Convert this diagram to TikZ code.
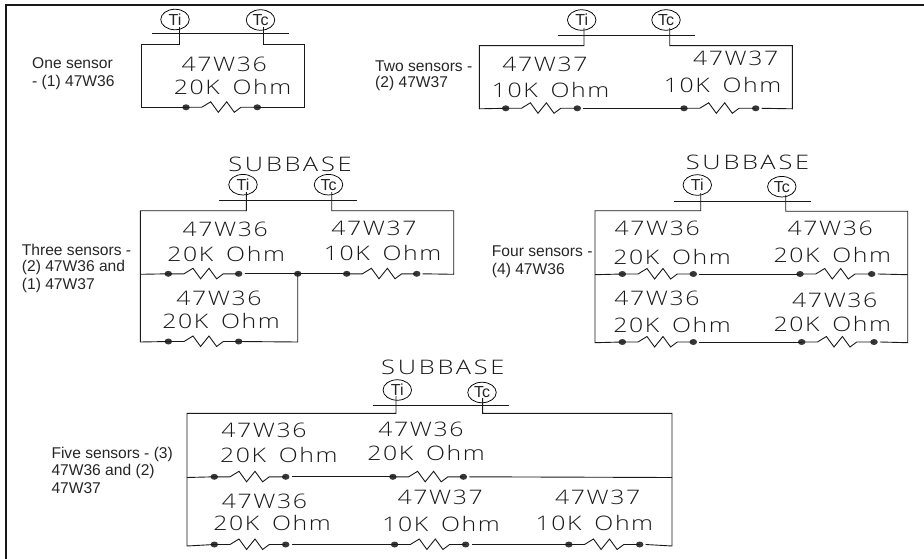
\documentclass[tikz,border=0pt]{standalone}
\usepackage{fontspec}
\setmainfont{Liberation Sans}
\newfontfamily\cad[LetterSpace=8,FakeStretch=1.24,WordSpace=1.6]{Open Sans Light}
\newfontfamily\cadwide[LetterSpace=14,FakeStretch=1.27]{Open Sans Light}
\usetikzlibrary{shapes.geometric}
\tikzset{
  x=1pt,y=-1pt,
  wire/.style={line width=0.9pt,black!90},
  frameline/.style={line width=2pt,black!90},
  sensor/.style={ellipse,draw,line width=0.75pt,minimum width=28.5pt,minimum height=20.5pt,inner sep=0pt,font=\fontsize{16}{16}\selectfont,text=black!85},
  cadtext/.style={font=\cad\fontsize{20}{20}\selectfont,inner sep=0pt,anchor=center,text=black!90},
  basetext/.style={font=\cadwide\fontsize{20}{20}\selectfont,inner sep=0pt,anchor=center,text=black!90},
  captext/.style={font=\fontsize{15.6}{15.6}\selectfont,anchor=west,inner sep=0pt,text=black!85},
  pindot/.style={ellipse,fill=black!78,inner sep=0pt,minimum width=7.5pt,minimum height=6pt}
}
% name, x1, x2, y
\newcommand{\respair}[4]{%
  \node[pindot] (#1a) at (#2,#4) {};
  \node[pindot] (#1b) at (#3,#4) {};
  \draw[wire] (#1a.center) -- ++(15.7,0) -- ++(9,-5.5) -- ++(7.6,10.5) -- ++(8.4,-10.5) -- ++(7.6,10.5) -- ++(6.7,-5) -- (#1b.center);
}
\newcommand{\gapr}[1]{([xshift=6pt]#1.center)}
\begin{document}
\begin{tikzpicture}
\useasboundingbox (0,0) rectangle (924,559);
\fill[white] (0,0) rectangle (924,559);
\coordinate (fbl) at (6,559);
\coordinate (ftl) at (6,5.5);
\coordinate (ftr) at (924,5.5);
\draw[frameline] (fbl) -- (ftl) -- (ftr);

% ---------- One sensor
\node[sensor] (tiA) at (175,19.5) {Ti};
\node[sensor] (tcA) at (260.5,20) {Tc};
\coordinate (barAl) at (152,33.7); \coordinate (barAr) at (289,33.7);
\draw[wire] (barAl) -- (barAr);
\coordinate (dtiA) at (179.3,27); \coordinate (dtcA) at (263.7,27);
\coordinate (tlA) at (141.7,44); \coordinate (trA) at (304,44);
\coordinate (blA) at (141.7,107.3); \coordinate (brA) at (304,107.3);
\respair{rA}{186}{257.3}{107.3}
\draw[wire] (dtiA) |- (tlA) -- (blA) -- (rAa.center);
\draw[wire] (dtcA) |- (trA) -- (brA) -- (rAb.center);
\node[cadtext] (tA1) at (224.3,64) {47W36};
\node[cadtext] (tA2) at (232.5,87.5) {20K Ohm};
\node[captext] (cA1) at (32,63) {One sensor};
\node[captext] (cA2) at (32,82) {- (1) 47W36};

% ---------- Two sensors
\node[sensor] (tiB) at (581.7,20) {Ti};
\node[sensor] (tcB) at (666,20) {Tc};
\coordinate (barBl) at (558,35.7); \coordinate (barBr) at (695,35.7);
\draw[wire] (barBl) -- (barBr);
\coordinate (dtiB) at (584,28); \coordinate (dtcB) at (669.7,28);
\coordinate (tlB) at (479.3,45.7); \coordinate (trB) at (792.3,45.7);
\coordinate (blB) at (479.3,108.8); \coordinate (brB) at (792.3,108.8);
\respair{rB}{505.7}{577.3}{108.3}
\respair{rC}{684}{755.7}{108.3}
\draw[wire] (dtiB) |- (tlB) -- (blB) -- (rBa.center);
\draw[wire] \gapr{rBb} -- (rCa.center);
\draw[wire] (dtcB) |- (trB) -- (brB) -- \gapr{rCb};
\node[cadtext] (tB1) at (545,64.7) {47W37};
\node[cadtext] (tB2) at (550.5,90.5) {10K Ohm};
\node[cadtext] (tB3) at (735.7,58.7) {47W37};
\node[cadtext] (tB4) at (722.5,85) {10K Ohm};
\node[captext] (cB1) at (375,66) {Two sensors -};
\node[captext] (cB2) at (375,83.3) {(2) 47W37};

% ---------- Three sensors
\node[basetext] (sC) at (290,164) {SUBBASE};
\node[sensor] (tiC) at (243,184.7) {Ti};
\node[sensor] (tcC) at (328.5,184.7) {Tc};
\coordinate (barCl) at (219,200.7); \coordinate (barCr) at (356.7,200.7);
\draw[wire] (barCl) -- (barCr);
\coordinate (dtiC) at (246.3,192); \coordinate (dtcC) at (331.7,192);
\coordinate (tlC) at (140.3,210.7); \coordinate (trC) at (453.7,210.7);
\coordinate (mlC) at (140.3,274.3); \coordinate (mrC) at (453.7,274.3);
\coordinate (blC) at (140.3,342); \coordinate (brC) at (297.7,342);
\respair{rD}{168.3}{238.7}{273.8}
\respair{rE}{346.7}{416.7}{273.8}
\respair{rF}{168.3}{238.7}{341.5}
\node[pindot] (jC) at (297.7,273.8) {};
\draw[wire] (dtiC) |- (tlC) -- (blC) -- (rFa.center);
\draw[wire] (mlC) -- (rDa.center);
\draw[wire] \gapr{rDb} -- (jC.center) -- (rEa.center);
\draw[wire] (dtcC) |- (trC) -- (mrC) -- \gapr{rEb};
\draw[wire] (jC.center) -- (brC) -- (rFb.center);
\node[cadtext] (tC1) at (225.2,229.5) {47W36};
\node[cadtext] (tC2) at (226.2,254) {20K Ohm};
\node[cadtext] (tC3) at (374,228.7) {47W37};
\node[cadtext] (tC4) at (382.5,252.5) {10K Ohm};
\node[cadtext] (tC5) at (219,298.3) {47W36};
\node[cadtext] (tC6) at (221,320.8) {20K Ohm};
\node[captext] (cC1) at (21.7,250) {Three sensors -};
\node[captext] (cC2) at (21.7,267.7) {(2) 47W36 and};
\node[captext] (cC3) at (21.7,285) {(1) 47W37};

% ---------- Four sensors
\node[basetext] (sD) at (747.5,162.5) {SUBBASE};
\node[sensor] (tiD) at (697.3,185) {Ti};
\node[sensor] (tcD) at (781.8,186.7) {Tc};
\coordinate (barDl) at (674,201.7); \coordinate (barDr) at (810.7,201.7);
\draw[wire] (barDl) -- (barDr);
\coordinate (dtiD) at (700.7,193); \coordinate (dtcD) at (785.7,195);
\coordinate (tlD) at (595,210.7); \coordinate (trD) at (907.7,211.2);
\coordinate (mlD) at (595,274.7); \coordinate (mrD) at (907.7,274.7);
\coordinate (blD) at (595,342.7); \coordinate (brD) at (907.7,342.7);
\respair{rG}{622.3}{693.3}{274}
\respair{rH}{800}{871.7}{274}
\respair{rI}{622.3}{693.3}{342}
\respair{rJ}{801.7}{874}{342}
\draw[wire] (dtiD) |- (tlD) -- (blD) -- (rIa.center);
\draw[wire] (mlD) -- (rGa.center);
\draw[wire] \gapr{rGb} -- (rHa.center);
\draw[wire] \gapr{rIb} -- (rJa.center);
\draw[wire] (dtcD) |- (trD) -- (brD) -- \gapr{rJb};
\draw[wire] (mrD) -- \gapr{rHb};
\node[cadtext] (tD1) at (657.2,228.7) {47W36};
\node[cadtext] (tD2) at (672,256.7) {20K Ohm};
\node[cadtext] (tD3) at (830.2,228) {47W36};
\node[cadtext] (tD4) at (832.3,254.7) {20K Ohm};
\node[cadtext] (tD5) at (657,298) {47W36};
\node[cadtext] (tD6) at (672,325) {20K Ohm};
\node[cadtext] (tD7) at (834.8,300.5) {47W36};
\node[cadtext] (tD8) at (832.3,323.8) {20K Ohm};
\node[captext] (cD1) at (491.7,251.7) {Four sensors -};
\node[captext] (cD2) at (491.7,270) {(4) 47W36};

% ---------- Five sensors
\node[basetext] (sE) at (442.8,367) {SUBBASE};
\node[sensor] (tiE) at (397.3,390) {Ti};
\node[sensor] (tcE) at (482,392.5) {Tc};
\coordinate (barEl) at (372.8,405); \coordinate (barEr) at (509,405);
\draw[wire] (barEl) -- (barEr);
\coordinate (dtiE) at (396,396); \coordinate (dtcE) at (482.6,398);
\coordinate (tlE) at (187,413.3); \coordinate (trE) at (672,413.3);
\coordinate (mlE) at (187,477.5); \coordinate (mrE) at (672,477.5);
\coordinate (blE) at (187,546); \coordinate (brE) at (672,546);
\respair{rK}{214.3}{285.7}{476.8}
\respair{rL}{392.9}{463.4}{476.8}
\respair{rM}{214.3}{285.7}{544.5}
\respair{rN}{394.6}{465.6}{544.5}
\respair{rO}{568.8}{639.7}{544.5}
\draw[wire] (dtiE) |- (tlE) -- (blE) -- (rMa.center);
\draw[wire] (mlE) -- (rKa.center);
\draw[wire] \gapr{rKb} -- (rLa.center);
\draw[wire] (mrE) -- \gapr{rLb};
\draw[wire] \gapr{rMb} -- (rNa.center);
\draw[wire] \gapr{rNb} -- (rOa.center);
\draw[wire] (dtcE) |- (trE) -- (brE) -- \gapr{rOb};
\node[cadtext] (tE1) at (264,430.3) {47W36};
\node[cadtext] (tE2) at (278.8,455) {20K Ohm};
\node[cadtext] (tE3) at (420.9,429.7) {47W36};
\node[cadtext] (tE4) at (426,452.5) {20K Ohm};
\node[cadtext] (tE5) at (264.5,501) {47W36};
\node[cadtext] (tE6) at (272,522.5) {20K Ohm};
\node[cadtext] (tE7) at (440.2,497.3) {47W37};
\node[cadtext] (tE8) at (441,524) {10K Ohm};
\node[cadtext] (tE9) at (597.6,497.3) {47W37};
\node[cadtext] (tE10) at (594.4,522.8) {10K Ohm};
\node[captext] (cE1) at (51.3,454.3) {Five sensors - (3)};
\node[captext] (cE2) at (51.3,471) {47W36 and (2)};
\node[captext] (cE3) at (51.3,488.3) {47W37};
\end{tikzpicture}
\end{document}
